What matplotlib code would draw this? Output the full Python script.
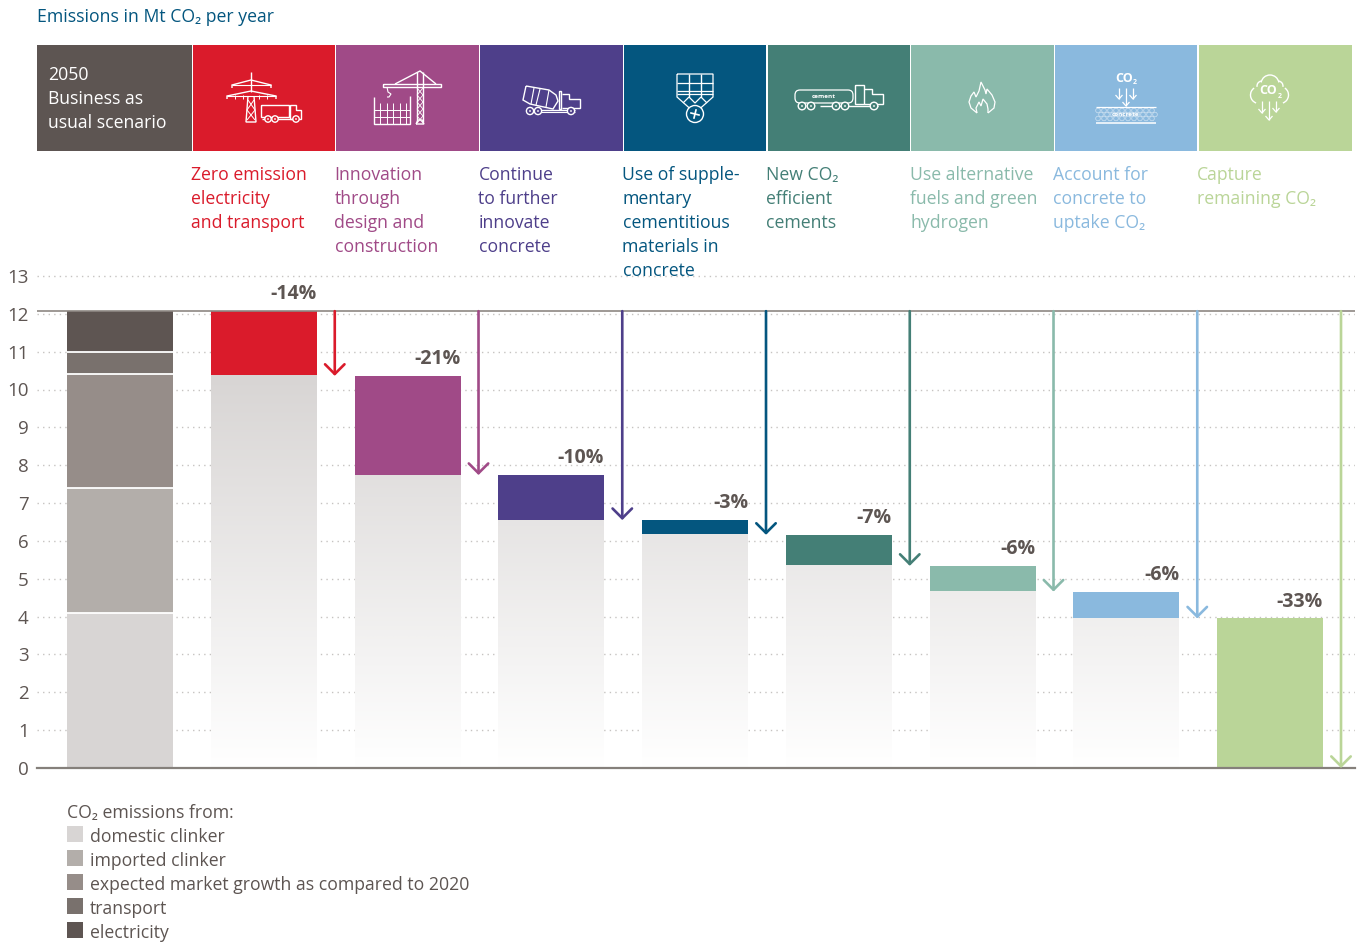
import numpy as np
import matplotlib
matplotlib.use("Agg")
import matplotlib.pyplot as plt
from matplotlib.colors import LinearSegmentedColormap
from matplotlib.patches import Rectangle, Circle, Arc, FancyBboxPatch

plt.rcParams['font.family'] = ['Open Sans', 'Noto Sans', 'DejaVu Sans']

W, H = 1359, 942
TXT = "#5d5552"

# stacked reference bar (Mt CO2)
stack_names = ["domestic clinker", "imported clinker", "expected market growth as compared to 2020",
               "transport", "electricity"]
stack_values = [4.10, 3.30, 3.01, 0.59, 1.07]
stack_colors = ["#d8d5d4", "#b3aeaa", "#968d89", "#79716d", "#5e5552"]

# waterfall: level reached after each lever, starting from the 2050 total
levels = [12.07, 10.36, 7.74, 6.55, 6.16, 5.34, 4.66, 3.95, 0.0]
pct_labels = ["-14%", "-21%", "-10%", "-3%", "-7%", "-6%", "-6%", "-33%"]
lever_colors = ["#da1b2b", "#a04a87", "#4e3f8a", "#04567f", "#447f76", "#8abaab", "#8ab9de", "#bad598"]
lever_labels = ["Zero emission\nelectricity\nand transport",
                "Innovation\nthrough\ndesign and\nconstruction",
                "Continue\nto further\ninnovate\nconcrete",
                "Use of supple-\nmentary\ncementitious\nmaterials in\nconcrete",
                "New CO₂\nefficient\ncements",
                "Use alternative\nfuels and green\nhydrogen",
                "Account for\nconcrete to\nuptake CO₂",
                "Capture\nremaining CO₂"]
yticks = list(range(14))

fig = plt.figure(figsize=(W / 100, H / 100), dpi=100)

# chart axes: x index 0 sits at pixel 120, one step is 143.75 px; y unit is 37.85 px
left, right, top, bottom = 37, 1355, 270, 768
ax = fig.add_axes([left / W, 1 - bottom / H, (right - left) / W, (bottom - top) / H])
step = 143.75
xlim = ((left - 120) / step, (right - 120) / step)
ylim = (0, (bottom - top) / 37.85)
bw = 106 / step

ax.set_yticks(yticks)
ax.set_xticks([])
ax.tick_params(axis='y', length=0, pad=6, labelsize=13.5, labelcolor=TXT)
ax.grid(True, axis='y', color="#c6c3c1", lw=1, ls=(0, (1, 3)), zorder=0)
ax.set_axisbelow(True)
for s in ax.spines.values():
    s.set_visible(False)

# first bar
base = 0
for v, c in zip(stack_values, stack_colors):
    ax.bar(0, v, bw, bottom=base, color=c, zorder=2, lw=0)
    base += v
    if base < levels[0] - 0.01:
        ax.hlines(base, -bw / 2, bw / 2, color="white", lw=1.3, zorder=3)

# waterfall bars, fading remainder under each step
fade = LinearSegmentedColormap.from_list("fade", ["#ffffff", "#d8d5d4"])
for i, c in enumerate(lever_colors):
    x = i + 1
    ax.bar(x, levels[i] - levels[i + 1], bw, bottom=levels[i + 1], color=c, zorder=2, lw=0)
    if levels[i + 1] > 0:
        grad = np.linspace(0, levels[i + 1], 256).reshape(-1, 1)
        ax.imshow(grad, cmap=fade, vmin=0, vmax=10.4, origin='lower', aspect='auto', zorder=2,
                  extent=(x - bw / 2, x + bw / 2, 0, levels[i + 1]))
    ax.annotate(pct_labels[i], xy=(x + bw / 2, levels[i]), xytext=(0, 5), textcoords='offset points',
                ha='right', va='bottom', fontsize=14, fontweight='bold', color=TXT, zorder=5)
    ax.annotate("", xy=(x + 0.494, levels[i + 1]), xytext=(x + 0.494, levels[0]),
                arrowprops=dict(arrowstyle="->,head_length=0.5,head_width=0.5", color=c, lw=1.9,
                                mutation_scale=14, shrinkA=0, shrinkB=0), zorder=4, annotation_clip=False)

ax.set_xlim(*xlim)
ax.set_ylim(*ylim)
ax.axhline(levels[0], color="#8d8783", lw=1.2, zorder=3)
ax.axhline(0, color="#85807b", lw=1.6, zorder=3, clip_on=False)

# overlay in pixel coordinates for header, text and icons
ov = fig.add_axes([0, 0, 1, 1], zorder=5)
ov.set_xlim(0, W)
ov.set_ylim(H, 0)
ov.axis('off')
ov.patch.set_alpha(0)


def line(pts, lw=1.0, color="white"):
    pts = np.array(pts, dtype=float)
    ov.plot(pts[:, 0], pts[:, 1], color=color, lw=lw, solid_joinstyle='miter', solid_capstyle='butt', zorder=3)


def wheel(x, y, r=3.6, bg="none"):
    ov.add_patch(Circle((x, y), r, fc=bg, ec="white", lw=1.0, zorder=4))
    ov.add_patch(Circle((x, y), 0.9, fc="white", ec='none', zorder=4))


def down_arrow(x, y0, y1):
    line([(x, y0), (x, y1)], 0.9)
    line([(x - 3.5, y1 - 4), (x, y1), (x + 3.5, y1 - 4)], 0.9)


# header tiles
edges = [(37, 191.5), (192.5, 335), (336, 479), (480, 622.5), (623.5, 766), (767.5, 910), (911, 1053.5),
         (1055, 1197), (1199, 1352)]
tile_colors = ["#5d5552"] + lever_colors
for (a, b), c in zip(edges, tile_colors):
    ov.add_patch(Rectangle((a, 45), b - a, 106, fc=c, ec='none', zorder=1))

fs = 12.7
ov.text(37, 21.5, "Emissions in Mt CO₂ per year", color="#04567f", fontsize=fs, va='baseline')
for k, t in enumerate(["2050", "Business as", "usual scenario"]):
    ov.text(48, 80.5 + 24 * k, t, color="white", fontsize=fs, va='baseline', zorder=3)

label_x = [191, 334.5, 478.5, 622.5, 766, 910, 1053, 1197]
for x, t, c in zip(label_x, lever_labels, lever_colors):
    for k, row in enumerate(t.split("\n")):
        ov.text(x, 180.5 + 24 * k, row, color=c, fontsize=fs, va='baseline')

# icon: pylon and truck
line([(251, 72), (251, 92)], 1.0)
line([(232, 88), (232, 85), (251, 80), (271, 85), (271, 88)])
line([(232, 85), (271, 85)], 0.8)
line([(227, 99), (227, 96), (251, 91), (276, 96), (276, 99)])
line([(227, 96), (276, 96)], 0.8)
for tx in [235, 243, 259, 267]:
    line([(tx, 95), (tx, 99)], 0.7)
line([(248, 96), (246, 122), (256, 122), (254, 96)])
line([(248, 100), (255, 110), (247, 120)], 0.7)
line([(254, 100), (247, 110), (255, 120)], 0.7)
line([(261, 105), (289, 105), (289, 117), (261, 117), (261, 105)])
line([(290, 105), (296, 105), (296, 110), (301, 110), (301, 119), (290, 119), (290, 105)])
line([(262, 119), (295, 119)])
for wx in [268, 275, 296]:
    wheel(wx, 119, 3.2, tile_colors[1])

# icon: crane and building site
line([(383, 84), (441, 84), (441, 87), (383, 87), (383, 84)])
line([(395, 84), (420, 71), (436, 84)])
line([(417, 72), (417, 122)])
line([(423, 72), (423, 122)])
for ky in range(88, 122, 7):
    line([(417, ky), (423, ky + 7)], 0.6)
    line([(423, ky), (417, ky + 7)], 0.6)
line([(416, 124), (418, 120), (422, 120), (424, 124), (416, 124)])
line([(387, 87), (388, 92), (391, 94), (389, 97), (387, 97)], 0.8)
line([(374, 97), (374, 124), (410, 124), (410, 96)])
for gx in np.arange(380, 410, 6.5):
    line([(gx, 103), (gx, 124)], 0.7)
for gy in [110, 117]:
    line([(374, gy), (410, gy)], 0.7)

# icon: mixer truck
line([(526, 86), (549, 90), (556, 95), (558, 101), (553, 109), (530, 104), (523, 100), (526, 86)])
line([(534, 88), (531, 104)], 0.8)
line([(540, 89), (536, 105)], 0.8)
line([(549, 90), (546, 107)], 0.8)
line([(559, 91), (559, 109), (561, 109), (561, 91), (559, 91)])
line([(562, 94), (569, 94), (569, 99), (580, 99), (580, 108), (562, 108)])
line([(527, 110), (575, 110)])
line([(530, 112), (575, 112)], 0.8)
for wx in [530, 538, 571]:
    wheel(wx, 111, 3.6, tile_colors[3])

# icon: silo
line([(677, 74), (713, 74), (713, 97), (695, 113), (677, 97), (677, 74)], 0.9)
for gx in [689, 701]:
    line([(gx, 74), (gx, 97)], 1.0)
for gy in [83, 91]:
    line([(677, gy), (713, gy)], 0.9)
line([(677, 94), (713, 94)], 0.9)
line([(689, 97), (695, 103), (701, 97)], 0.9)
line([(689, 97), (683, 103)], 0.9)
line([(701, 97), (707, 103)], 0.9)
ov.add_patch(Circle((695, 114), 8.5, fc=tile_colors[4], ec="white", lw=1.0, zorder=4))
for dx, dy in [(-4, -1), (1, -4), (4, 1), (-1, 4)]:
    ov.plot([695, 695 + dx], [114, 114 + dy], color="white", lw=1.2, zorder=5)

# icon: cement tanker
ov.add_patch(FancyBboxPatch((795, 90), 58, 13, boxstyle="round,pad=0,rounding_size=5", fc='none', ec="white",
                            lw=0.9, zorder=3))
ov.text(824, 96, "cement", color="white", fontsize=4.6, fontweight='bold', ha='center', va='center', zorder=4)
line([(855, 85), (864, 85), (864, 104), (855, 104), (855, 85)], 1.0)
line([(864, 89), (872, 89), (872, 94), (883, 94), (883, 104), (864, 104)], 1.0)
line([(820, 106), (878, 106)], 1.0)
for wx in [802, 811, 836, 845, 874]:
    wheel(wx, 106, 3.8, tile_colors[5])

# icon: flame
line([(977, 113), (971, 108), (969, 102), (971, 96), (974, 92), (976, 97), (979, 91), (981, 82), (985, 90),
      (986, 94), (987, 89), (992, 95), (995, 102), (994, 108), (988, 113)], 0.9)
line([(977, 113), (976, 108), (979, 102), (981, 106), (983, 99), (987, 104), (988, 109), (988, 113)], 0.9)

# icon: uptake by concrete
ov.text(1124, 78, "CO", color="white", fontsize=9, fontweight='bold', ha='center', va='center', zorder=3)
ov.text(1135, 82, "2", color="white", fontsize=5, fontweight='bold', ha='center', va='center', zorder=3)
down_arrow(1119, 88, 99)
down_arrow(1126, 88, 106)
down_arrow(1133, 88, 99)
for cy, off in [(110.5, 0), (114.5, 3), (118.5, 0)]:
    for cx in np.arange(1098 + off, 1156, 6):
        ov.add_patch(Circle((cx, cy), 2.3, fc='none', ec="#cfe2f2", lw=0.5, zorder=3))
line([(1096, 107), (1156, 107)], 0.9)
line([(1096, 122.5), (1156, 122.5)], 1.1)
ov.text(1126, 115, "concrete", color="white", fontsize=4.6, fontweight='bold', ha='center', va='center', zorder=4)

# icon: cloud capture
cloud = [((1270, 84), 18, 18, 190, 350), ((1259, 95), 17, 17, 110, 235), ((1280, 95), 17, 17, 305, 70),
         ((1262, 86), 10, 10, 170, 260), ((1278, 86), 10, 10, 280, 10)]
for xy, a, b, t1, t2 in cloud:
    ov.add_patch(Arc(xy, a, b, theta1=t1, theta2=t2, color="white", lw=1.0, zorder=3))
ov.text(1268, 91, "CO", color="white", fontsize=9, fontweight='bold', ha='center', va='center', zorder=3)
ov.text(1280, 96, "2", color="white", fontsize=5, fontweight='bold', ha='center', va='center', zorder=3)
down_arrow(1262, 101, 113)
down_arrow(1269, 101, 120)
down_arrow(1276, 101, 112)

# legend
ov.text(67, 818, "CO₂ emissions from:", color=TXT, fontsize=fs, va='baseline')
for k, (n, c) in enumerate(zip(stack_names, stack_colors)):
    y = 842 + 24 * k
    ov.add_patch(Rectangle((67, y - 16), 16, 16, fc=c, ec='none'))
    ov.text(90, y, n, color=TXT, fontsize=fs, va='baseline')

fig.savefig("out.png", dpi=100, facecolor="white")
